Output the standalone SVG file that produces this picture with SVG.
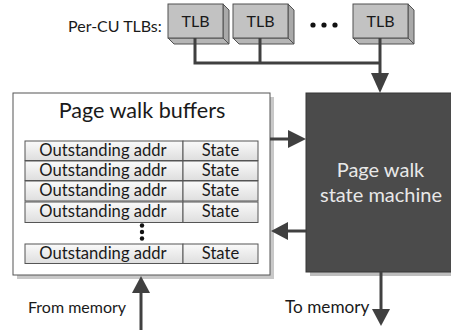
<svg xmlns="http://www.w3.org/2000/svg" width="451" height="330" viewBox="0 0 451 330">
<defs>
<style>
text{font-family:Lato,"Open Sans","Liberation Sans",sans-serif;fill:#1a1a1a}
.tlbf{fill:#c2c2c2;stroke:#505050;stroke-width:1}
.tlbs{fill:#a9a9a9;stroke:#505050;stroke-width:1}
.tlbb{fill:#b6b6b6;stroke:#505050;stroke-width:1}
.cell{fill:url(#cg);stroke:#555;stroke-width:1}
.row{font-size:16.6px;text-anchor:middle}
.tlbt{font-size:16px;text-anchor:middle}
.conn{fill:none;stroke:#404040;stroke-width:3}
.head{fill:#404040}
</style>
<linearGradient id="cg" x1="0" y1="0" x2="0" y2="1">
<stop offset="0" stop-color="#fafafa"/>
<stop offset="1" stop-color="#dedede"/>
</linearGradient>
</defs>
<rect width="451" height="330" fill="#fff"/>
<text x="68" y="32" font-size="16">Per-CU TLBs:</text>
<g id="tlb1">
<polygon class="tlbs" points="223,4 229,10 229,44 223,38"/>
<polygon class="tlbb" points="168,38 223,38 229,44 174,44"/>
<rect class="tlbf" x="168" y="4" width="55" height="34"/>
<text class="tlbt" x="195.5" y="27">TLB</text>
</g>
<g id="tlb2">
<polygon class="tlbs" points="288,4 294,10 294,44 288,38"/>
<polygon class="tlbb" points="233,38 288,38 294,44 239,44"/>
<rect class="tlbf" x="233" y="4" width="55" height="34"/>
<text class="tlbt" x="260.5" y="27">TLB</text>
</g>
<g id="dots">
<circle cx="313" cy="25" r="2.6" fill="#111"/>
<circle cx="324" cy="25" r="2.6" fill="#111"/>
<circle cx="335" cy="25" r="2.6" fill="#111"/>
</g>
<g id="tlb3">
<polygon class="tlbs" points="408,4 414,10 414,44 408,38"/>
<polygon class="tlbb" points="353,38 408,38 414,44 359,44"/>
<rect class="tlbf" x="353" y="4" width="55" height="34"/>
<text class="tlbt" x="380.5" y="27">TLB</text>
</g>
<g id="buffers">
<rect x="17" y="97" width="257" height="182" fill="#c8c8c8"/>
<rect x="13" y="93" width="257" height="182" fill="#fff" stroke="#555" stroke-width="1"/>
<text x="142" y="118" font-size="21.6" text-anchor="middle">Page walk buffers</text>
<rect class="cell" x="25" y="141" width="158" height="19.5"/><rect class="cell" x="183" y="141" width="75" height="19.5"/>
<text class="row" x="103" y="156">Outstanding addr</text><text class="row" x="220.5" y="156">State</text>
<rect class="cell" x="25" y="161" width="158" height="19.5"/><rect class="cell" x="183" y="161" width="75" height="19.5"/>
<text class="row" x="103" y="176">Outstanding addr</text><text class="row" x="220.5" y="176">State</text>
<rect class="cell" x="25" y="181" width="158" height="20"/><rect class="cell" x="183" y="181" width="75" height="20"/>
<text class="row" x="103" y="196">Outstanding addr</text><text class="row" x="220.5" y="196">State</text>
<rect class="cell" x="25" y="202" width="158" height="20.5"/><rect class="cell" x="183" y="202" width="75" height="20.5"/>
<text class="row" x="103" y="217">Outstanding addr</text><text class="row" x="220.5" y="217">State</text>
<circle cx="142" cy="225.5" r="2.2" fill="#111"/>
<circle cx="142" cy="232" r="2.2" fill="#111"/>
<circle cx="142" cy="238.5" r="2.2" fill="#111"/>
<rect class="cell" x="25" y="244" width="158" height="19.5"/><rect class="cell" x="183" y="244" width="75" height="19.5"/>
<text class="row" x="103" y="259">Outstanding addr</text><text class="row" x="220.5" y="259">State</text>
</g>
<g id="statemachine">
<rect x="310" y="97" width="150" height="179" fill="#bdbdbd"/>
<rect x="306" y="93" width="150" height="179" fill="#4b4b4b" stroke="#363636" stroke-width="1"/>
<text x="380.5" y="177" font-size="20" text-anchor="middle" style="fill:#e8e8e8">Page walk</text>
<text x="381" y="202" font-size="20" text-anchor="middle" style="fill:#e8e8e8">state machine</text>
</g>
<g id="connectors">
<path class="conn" d="M195,38 V63 H380"/>
<path class="conn" d="M260,38 V63"/>
<path class="conn" d="M380,38 V78"/>
<polygon class="head" points="371,73 389,73 380,93"/>
<path class="conn" d="M270,139 H290"/>
<polygon class="head" points="288,130 306,139 288,148"/>
<path class="conn" d="M306,231 H286"/>
<polygon class="head" points="288,222 271,231 288,240"/>
<path class="conn" d="M381,272 V312"/>
<polygon class="head" points="372,309 390,309 381,326"/>
<path class="conn" d="M141,330 V290"/>
<polygon class="head" points="132,293 150,293 141,276"/>
</g>
<text x="28" y="313" font-size="16">From memory</text>
<text x="285" y="313" font-size="17.2">To memory</text>
</svg>
